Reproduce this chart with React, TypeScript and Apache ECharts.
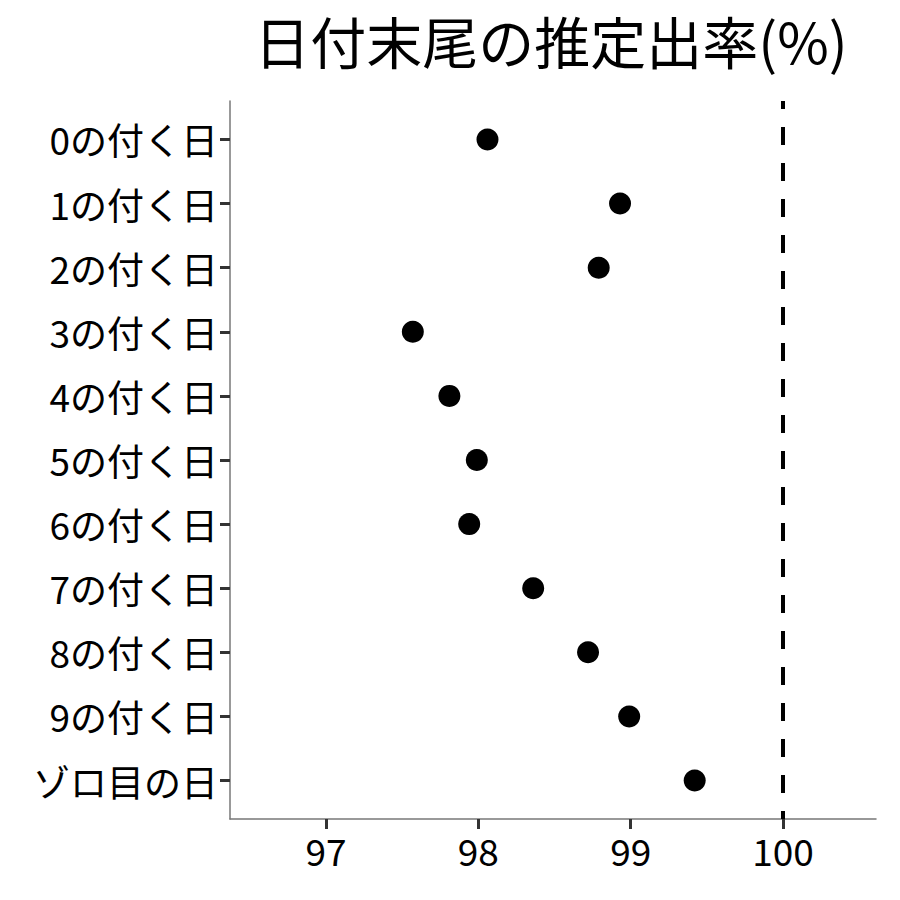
import React, { useEffect, useRef } from "react";
import * as echarts from "echarts";

const categories = [
  "0の付く日",
  "1の付く日",
  "2の付く日",
  "3の付く日",
  "4の付く日",
  "5の付く日",
  "6の付く日",
  "7の付く日",
  "8の付く日",
  "9の付く日",
  "ゾロ目の日",
];
const rates = [98.06, 98.93, 98.79, 97.57, 97.81, 97.99, 97.94, 98.36, 98.72, 98.99, 99.42];
const xTicks = [97, 98, 99, 100];
const referenceLine = 100;
const titleText = "日付末尾の推定出率(%)";

const FONT = '"Noto Sans CJK JP", "Noto Sans", sans-serif';

export default function App() {
  const ref = useRef<HTMLDivElement>(null);
  useEffect(() => {
    document.body.style.margin = "0";
    if (!ref.current) return;
    const chart = echarts.init(ref.current, undefined, { renderer: "svg" });
    const yIdx = categories.map((_, i) => i);
    chart.setOption({
      animation: false,
      backgroundColor: "#ffffff",
      textStyle: { fontFamily: FONT },
      title: {
        text: titleText,
        left: 546,
        textAlign: "center",
        top: 6,
        textStyle: { fontFamily: FONT, fontSize: 56, fontWeight: "normal", color: "#000" },
      },
      grid: { left: 230, right: 24, top: 101, bottom: 81, containLabel: false },
      xAxis: {
        type: "value",
        min: 96.37,
        max: 100.61,
        splitLine: { show: false },
        axisLine: { show: true, onZero: false, lineStyle: { color: "#777", width: 1.5 } },
        axisTick: { show: true, customValues: xTicks, length: 10, lineStyle: { color: "#333", width: 3 } },
        axisLabel: {
          customValues: xTicks,
          color: "#000",
          fontSize: 37,
          fontFamily: FONT,
          margin: 12,
        },
      },
      yAxis: {
        type: "value",
        min: -0.6,
        max: categories.length - 1 + 0.6,
        inverse: true,
        splitLine: { show: false },
        axisLine: { show: true, onZero: false, lineStyle: { color: "#777", width: 1.5 } },
        axisTick: { show: true, customValues: yIdx, length: 10, lineStyle: { color: "#333", width: 3 } },
        axisLabel: {
          customValues: yIdx,
          formatter: (v: number) => categories[Math.round(v)] ?? "",
          color: "#000",
          fontSize: 37,
          fontFamily: FONT,
          margin: 12,
        },
      },
      series: [
        {
          type: "scatter",
          symbol: "circle",
          symbolSize: 22,
          itemStyle: { color: "#000", opacity: 1 },
          data: rates.map((v, i) => [v, i]),
          markLine: {
            silent: true,
            symbol: "none",
            label: { show: false },
            lineStyle: { color: "#000", width: 4, type: [18, 18], dashOffset: 10 },
            data: [{ xAxis: referenceLine }],
          },
        },
      ],
    });
    return () => chart.dispose();
  }, []);
  return <div ref={ref} style={{ width: 900, height: 900 }} />;
}
